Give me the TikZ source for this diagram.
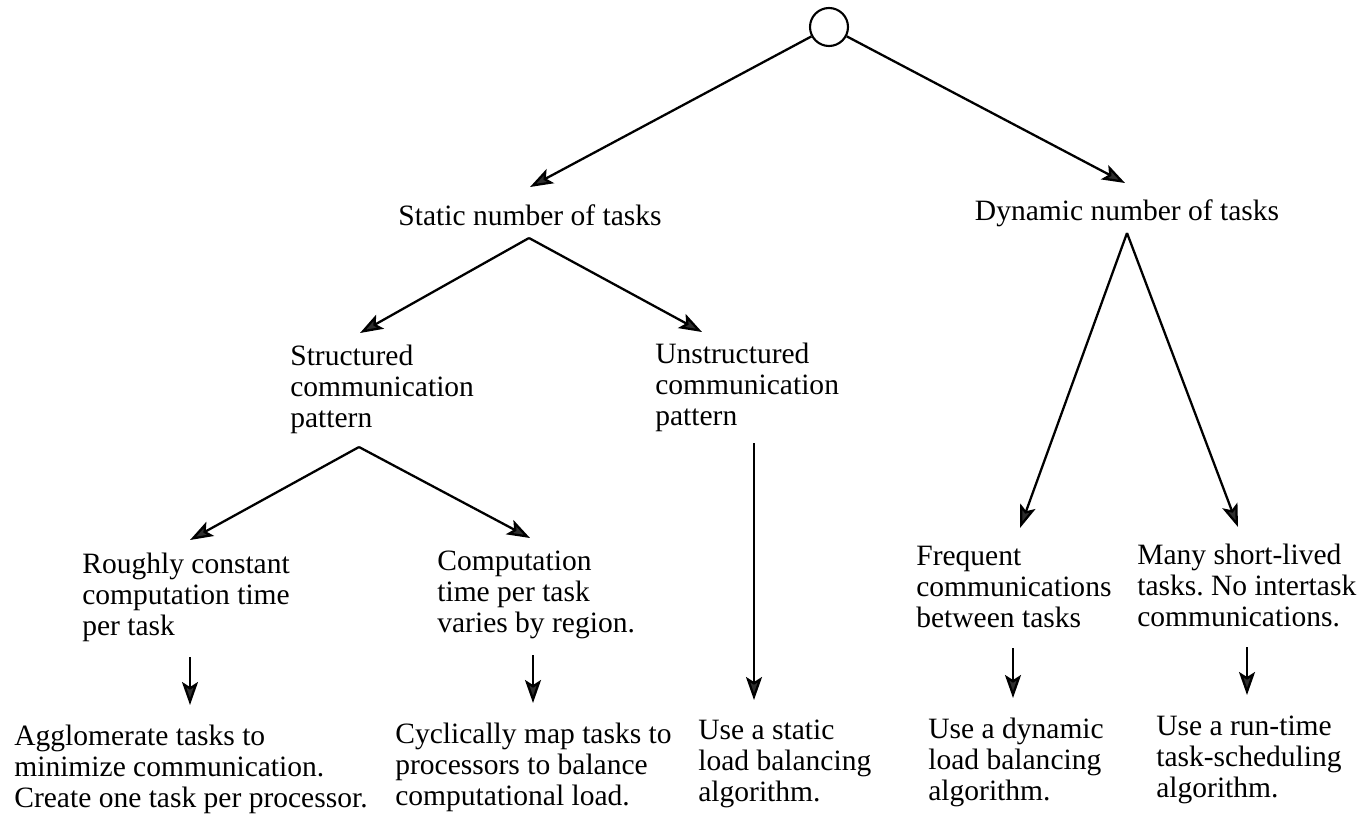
\documentclass[tikz,border=0pt]{standalone}
\usepackage{fontspec}
\setmainfont{Liberation Serif}
\usepackage{tikz}
\usetikzlibrary{arrows.meta,positioning,calc}
\frenchspacing

\definecolor{tipgray}{HTML}{2E2E2E}
\tikzset{
  lbl/.style={inner sep=0pt,align=left,anchor=north west,
    font=\fontsize{16.8}{17.6}\selectfont,execute at begin node=\vphantom{d}},
  arr/.style={line width=1.3pt,
    -{Stealth[length=0.46cm,width=0.32cm,inset=0.1cm,fill=tipgray]}},
}

\begin{document}
\begin{tikzpicture}[>=Stealth,x=0.02cm,y=-0.02cm]
  \useasboundingbox (0,0) rectangle (1359,815);
  % root
  \node[circle,draw,line width=1.2pt,minimum size=0.76cm,inner sep=0pt] (root) at (829,27) {};
  % first level
  \node[lbl,anchor=base,execute at begin node={}] (static) at (530,225) {Static number of tasks};
  \node[lbl,anchor=base,execute at begin node={}] (dynamic) at (1127,220) {Dynamic number of tasks};
  % second level
  \node[lbl] (struct) at (290,345) {Structured\\communication\\pattern};
  \node[lbl] (unstruct) at (655,343) {Unstructured\\communication\\pattern};
  % third level
  \node[lbl] (rough) at (82,553) {Roughly constant\\computation time\\per task};
  \node[lbl] (varies) at (437,551) {Computation\\time per task\\varies by region.};
  \node[lbl] (frequent) at (916,546) {Frequent\\communications\\between tasks};
  \node[lbl] (shortlived) at (1137,544) {Many short-lived\\tasks. No intertask\\communications.};
  % strategies
  \node[lbl] (agglom) at (14,725) {Agglomerate tasks to\\minimize communication.\\Create one task per processor.};
  \node[lbl] (cyclic) at (395,723) {Cyclically map tasks to\\processors to balance\\computational load.};
  \node[lbl] (staticlb) at (698,720) {Use a static\\load balancing\\algorithm.};
  \node[lbl] (dynamiclb) at (928,718) {Use a dynamic\\load balancing\\algorithm.};
  \node[lbl] (runtime) at (1156,716) {Use a run-time\\task-scheduling\\algorithm.};
  % fork points and arrow tips
  \coordinate (tStatic) at (530,187);
  \coordinate (tDynamic) at (1125,183);
  \coordinate (fStatic) at (529,238);
  \coordinate (tStruct) at (360,333);
  \coordinate (tUnstruct) at (702,332);
  \coordinate (fStruct) at (359,447);
  \coordinate (tRough) at (190,540);
  \coordinate (tVaries) at (530,538);
  \coordinate (fDynamic) at (1127,233);
  \coordinate (tFrequent) at (1020,528);
  \coordinate (tShort) at (1238,527);
  \coordinate (sUnstruct) at (754,443);
  \coordinate (tStaticlb) at (754,700);
  \coordinate (sRough) at (190,657);
  \coordinate (tAgglom) at (190,705);
  \coordinate (sVaries) at (533,655);
  \coordinate (tCyclic) at (533,703);
  \coordinate (sFrequent) at (1013,648);
  \coordinate (tDynamiclb) at (1013,698);
  \coordinate (sShort) at (1247,647);
  \coordinate (tRuntime) at (1247,695);
  % arrows
  \draw[arr] (root) -- (tStatic);
  \draw[arr] (root) -- (tDynamic);
  \draw[arr] (fStatic) -- (tStruct);
  \draw[arr] (fStatic) -- (tUnstruct);
  \draw[arr] (fStruct) -- (tRough);
  \draw[arr] (fStruct) -- (tVaries);
  \draw[arr] (sUnstruct) -- (tStaticlb);
  \draw[arr] (fDynamic) -- (tFrequent);
  \draw[arr] (fDynamic) -- (tShort);
  \draw[arr] (sRough) -- (tAgglom);
  \draw[arr] (sVaries) -- (tCyclic);
  \draw[arr] (sFrequent) -- (tDynamiclb);
  \draw[arr] (sShort) -- (tRuntime);
\end{tikzpicture}
\end{document}
